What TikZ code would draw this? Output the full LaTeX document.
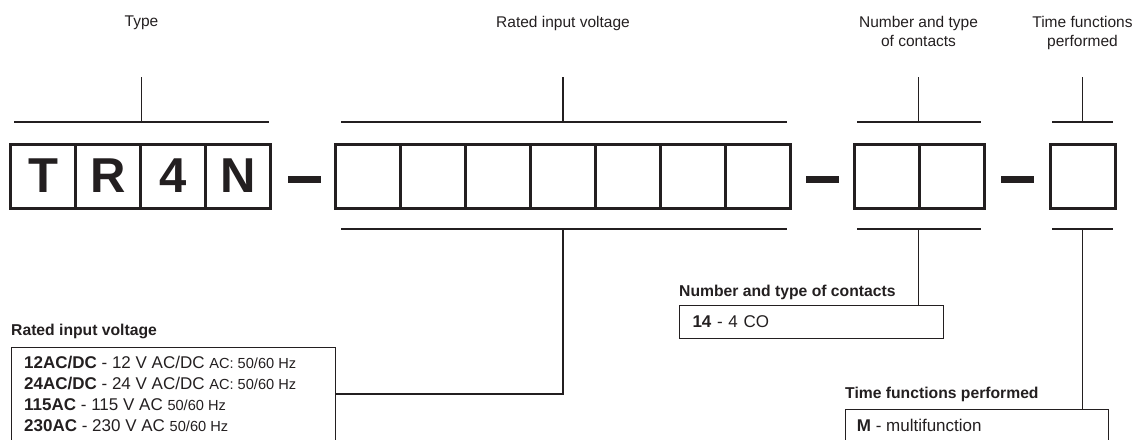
\documentclass[tikz,border=0pt]{standalone}
\usepackage{fontspec}
\setmainfont{Liberation Sans}
\usetikzlibrary{positioning}
\definecolor{ink}{RGB}{35,31,32}
\newcommand{\freqtext}[1]{{\fontsize{14.6}{21}\selectfont #1}}

\begin{document}
\begin{tikzpicture}[x=1pt, y=-1pt,
        cell/.style={rectangle, draw=ink, line width=3pt, outer sep=0pt, inner sep=0pt, minimum width=65pt, minimum height=64pt, text=ink, font=\fontsize{49}{49}\selectfont\bfseries},
        hyphen/.style={rectangle, fill=ink, inner sep=0pt, minimum width=33pt, minimum height=7pt},
        caption/.style={anchor=north, inner sep=0pt, align=center, text=ink, font=\fontsize{15.5}{18.7}\selectfont},
        guide/.style={draw=ink, line width=1.7pt},
        tick/.style={draw=ink, line width=1.3pt},
        heading/.style={anchor=base west, inner sep=0pt, text=ink, font=\fontsize{15.7}{18}\selectfont\bfseries},
        listbox/.style={rectangle, draw=ink, line width=1pt, anchor=north west, inner sep=0pt},
        entry/.style={inner sep=0pt, align=left, text=ink, font=\fontsize{17}{21}\selectfont}
    ]
        \useasboundingbox (0,0) rectangle (1134,439);
        \clip (0,0) rectangle (1134,439);

        % code fields
        \node[cell] (t1) at (43.25,176) {T};
        \node[cell, right=0pt of t1] (t2) {R};
        \node[cell, right=0pt of t2] (t3) {4};
        \node[cell, right=0pt of t3] (t4) {N};
        \node[hyphen] (d1) at (304.5,179.5) {};
        \node[cell] (v1) at (367.5,176) {};
        \foreach \i [count=\j from 2] in {1,...,6}
            \node[cell, right=0pt of v\i] (v\j) {};
        \node[hyphen] (d2) at (822,179.5) {};
        \node[cell] (c1) at (887,176) {};
        \node[cell, right=0pt of c1] (c2) {};
        \node[hyphen] (d3) at (1017,179.5) {};
        \node[cell] (f1) at (1082.5,176) {};

        % captions on top
        \node[caption] (lbltype) at (141.5,16) {Type};
        \node[caption] (lblvolt) at (563,16) {Rated input voltage};
        \node[caption] (lblcont) at (918.5,16) {Number and type\\of contacts};
        \node[caption] (lblfunc) at (1082.5,16) {Time functions\\performed};

        % bracket lines
        \draw[guide] (14,122) -- (269,122);
        \draw[guide] (341,122) -- (787,122);
        \draw[guide] (857,122) -- (981,122);
        \draw[guide] (1052,122) -- (1113,122);
        \draw[guide] (341,229) -- (787,229);
        \draw[guide] (857,229) -- (981,229);
        \draw[guide] (1052,229) -- (1113,229);

        \coordinate (typetop) at (141.5,77);
        \coordinate (volttop) at (563,77);
        \coordinate (conttop) at (918.5,77);
        \coordinate (functop) at (1082.5,77);
        \draw[tick] (typetop) -- (141.5,122);
        \draw[tick] (volttop) -- (563,122);
        \draw[tick] (conttop) -- (918.5,122);
        \draw[tick] (functop) -- (1082.5,122);

        % legend boxes
        \node[heading] (hvolt) at (11,335.5) {Rated input voltage};
        \node[listbox, minimum width=324pt, minimum height=120pt] (rbox) at (11,347) {};
        \node[entry, anchor=north west] (rtext) at (24,356.3) {\textbf{12AC/DC} - 12 V AC/DC \freqtext{AC: 50/60 Hz}\\
            \textbf{24AC/DC} - 24 V AC/DC \freqtext{AC: 50/60 Hz}\\
            \textbf{115AC} - 115 V AC \freqtext{50/60 Hz}\\
            \textbf{230AC} - 230 V AC \freqtext{50/60 Hz}};

        \node[heading] (hcont) at (679,296) {Number and type of contacts};
        \node[listbox, minimum width=264pt, minimum height=33pt, text width=238pt, inner xsep=12.7pt, align=left, text=ink, font=\fontsize{17}{21}\selectfont] (cbox) at (679,305) {\textbf{14} - 4 CO};

        \node[heading] (hfunc) at (845,398) {Time functions performed};
        \node[listbox, minimum width=263pt, minimum height=60pt] (tbox) at (845,409) {};
        \node[entry, anchor=base west] (ttext) at (856.7,431) {\textbf{M} - multifunction};

        % leaders to the legend boxes
        \coordinate (voltmid) at (563,229);
        \coordinate (contmid) at (918.5,229);
        \coordinate (funcmid) at (1082.5,229);
        \draw[tick] (voltmid) |- (rbox.east |- 563,394);
        \draw[tick] (contmid) -- (contmid |- cbox.north);
        \draw[tick] (funcmid) -- (funcmid |- tbox.north);
    \end{tikzpicture}
\end{document}
